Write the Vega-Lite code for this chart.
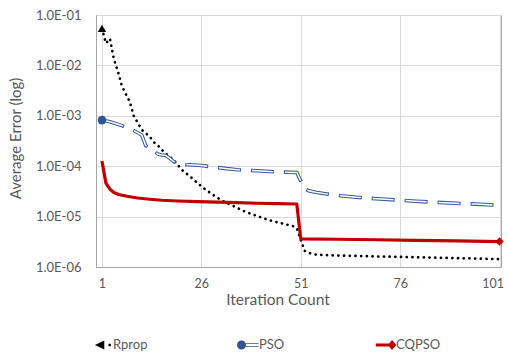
{
  "$schema": "https://vega.github.io/schema/vega-lite/v6.json",
  "width": 405,
  "height": 252,
  "autosize": {"type": "none"},
  "padding": {"left": 96, "top": 15, "right": 7, "bottom": 89},
  "config": {
    "font": "Lato",
    "view": {"stroke": "#a6a6a6"},
    "axis": {"labelColor": "#595959", "titleColor": "#595959", "labelFont": "Lato", "titleFont": "Lato", "titleFontWeight": "normal", "gridColor": "#d9d9d9", "domainColor": "#a6a6a6", "ticks": false, "tickSize": 0}
  },
  "data": {
    "values": [
      {"series": "Rprop", "x": 1, "y": 0.054},
      {"series": "Rprop", "x": 2, "y": 0.0275},
      {"series": "Rprop", "x": 3, "y": 0.034},
      {"series": "Rprop", "x": 4, "y": 0.0133},
      {"series": "Rprop", "x": 5, "y": 0.0077},
      {"series": "Rprop", "x": 6, "y": 0.0039},
      {"series": "Rprop", "x": 7, "y": 0.0027},
      {"series": "Rprop", "x": 8, "y": 0.0019},
      {"series": "Rprop", "x": 9, "y": 0.00099},
      {"series": "Rprop", "x": 10, "y": 0.00073},
      {"series": "Rprop", "x": 11, "y": 0.00053},
      {"series": "Rprop", "x": 12, "y": 0.00045},
      {"series": "Rprop", "x": 13, "y": 0.00039},
      {"series": "Rprop", "x": 14, "y": 0.0003},
      {"series": "Rprop", "x": 15, "y": 0.000263},
      {"series": "Rprop", "x": 16, "y": 0.000214},
      {"series": "Rprop", "x": 17, "y": 0.000178},
      {"series": "Rprop", "x": 18, "y": 0.000156},
      {"series": "Rprop", "x": 19, "y": 0.000133},
      {"series": "Rprop", "x": 20, "y": 0.000108},
      {"series": "Rprop", "x": 21, "y": 0.000086},
      {"series": "Rprop", "x": 22, "y": 0.000074},
      {"series": "Rprop", "x": 23, "y": 0.000064},
      {"series": "Rprop", "x": 24, "y": 0.000055},
      {"series": "Rprop", "x": 25, "y": 0.0000465},
      {"series": "Rprop", "x": 27, "y": 0.0000346},
      {"series": "Rprop", "x": 29, "y": 0.0000269},
      {"series": "Rprop", "x": 31, "y": 0.0000211},
      {"series": "Rprop", "x": 34, "y": 0.0000163},
      {"series": "Rprop", "x": 37, "y": 0.0000125},
      {"series": "Rprop", "x": 40, "y": 0.0000103},
      {"series": "Rprop", "x": 43, "y": 0.0000085},
      {"series": "Rprop", "x": 46, "y": 0.0000074},
      {"series": "Rprop", "x": 49, "y": 0.0000065},
      {"series": "Rprop", "x": 50, "y": 0.0000059},
      {"series": "Rprop", "x": 51, "y": 0.00000347},
      {"series": "Rprop", "x": 52, "y": 0.00000209},
      {"series": "Rprop", "x": 53, "y": 0.0000019},
      {"series": "Rprop", "x": 55, "y": 0.00000175},
      {"series": "Rprop", "x": 60, "y": 0.00000169},
      {"series": "Rprop", "x": 70, "y": 0.00000162},
      {"series": "Rprop", "x": 80, "y": 0.00000156},
      {"series": "Rprop", "x": 90, "y": 0.0000015},
      {"series": "Rprop", "x": 101, "y": 0.00000143},
      {"series": "PSO", "x": 1, "y": 0.000822},
      {"series": "PSO", "x": 3, "y": 0.00076},
      {"series": "PSO", "x": 6, "y": 0.00064},
      {"series": "PSO", "x": 9, "y": 0.00051},
      {"series": "PSO", "x": 11, "y": 0.000415},
      {"series": "PSO", "x": 12, "y": 0.000257},
      {"series": "PSO", "x": 13, "y": 0.000229},
      {"series": "PSO", "x": 14, "y": 0.000205},
      {"series": "PSO", "x": 15, "y": 0.000175},
      {"series": "PSO", "x": 16, "y": 0.000167},
      {"series": "PSO", "x": 17, "y": 0.000164},
      {"series": "PSO", "x": 18, "y": 0.000145},
      {"series": "PSO", "x": 19, "y": 0.000124},
      {"series": "PSO", "x": 20, "y": 0.000113},
      {"series": "PSO", "x": 22, "y": 0.000108},
      {"series": "PSO", "x": 26, "y": 0.000103},
      {"series": "PSO", "x": 30, "y": 0.000094},
      {"series": "PSO", "x": 35, "y": 0.000085},
      {"series": "PSO", "x": 40, "y": 0.000081},
      {"series": "PSO", "x": 45, "y": 0.000077},
      {"series": "PSO", "x": 50, "y": 0.000075},
      {"series": "PSO", "x": 51, "y": 0.000051},
      {"series": "PSO", "x": 52, "y": 0.0000354},
      {"series": "PSO", "x": 53, "y": 0.0000326},
      {"series": "PSO", "x": 55, "y": 0.00003},
      {"series": "PSO", "x": 58, "y": 0.0000278},
      {"series": "PSO", "x": 61, "y": 0.000026},
      {"series": "PSO", "x": 65, "y": 0.0000242},
      {"series": "PSO", "x": 70, "y": 0.0000226},
      {"series": "PSO", "x": 75, "y": 0.0000214},
      {"series": "PSO", "x": 80, "y": 0.0000202},
      {"series": "PSO", "x": 85, "y": 0.0000192},
      {"series": "PSO", "x": 90, "y": 0.0000184},
      {"series": "PSO", "x": 95, "y": 0.0000177},
      {"series": "PSO", "x": 101, "y": 0.0000167},
      {"series": "CQPSO", "x": 1, "y": 0.000127},
      {"series": "CQPSO", "x": 2, "y": 0.000046},
      {"series": "CQPSO", "x": 3, "y": 0.000035},
      {"series": "CQPSO", "x": 4, "y": 0.00003},
      {"series": "CQPSO", "x": 5, "y": 0.0000279},
      {"series": "CQPSO", "x": 6, "y": 0.0000265},
      {"series": "CQPSO", "x": 8, "y": 0.0000248},
      {"series": "CQPSO", "x": 10, "y": 0.0000234},
      {"series": "CQPSO", "x": 13, "y": 0.0000221},
      {"series": "CQPSO", "x": 16, "y": 0.0000211},
      {"series": "CQPSO", "x": 20, "y": 0.0000204},
      {"series": "CQPSO", "x": 25, "y": 0.0000198},
      {"series": "CQPSO", "x": 30, "y": 0.0000194},
      {"series": "CQPSO", "x": 35, "y": 0.0000189},
      {"series": "CQPSO", "x": 40, "y": 0.0000184},
      {"series": "CQPSO", "x": 45, "y": 0.0000181},
      {"series": "CQPSO", "x": 50, "y": 0.0000178},
      {"series": "CQPSO", "x": 51, "y": 0.00000362},
      {"series": "CQPSO", "x": 60, "y": 0.00000355},
      {"series": "CQPSO", "x": 70, "y": 0.00000347},
      {"series": "CQPSO", "x": 80, "y": 0.00000338},
      {"series": "CQPSO", "x": 90, "y": 0.0000033},
      {"series": "CQPSO", "x": 101, "y": 0.0000032}
    ]
  },
  "encoding": {
    "x": {
      "field": "x", "type": "quantitative",
      "scale": {"domain": [-0.5, 101.36], "nice": false, "zero": false},
      "axis": {"values": [1, 26, 51, 76, 101], "title": "Iteration Count", "grid": true, "labelFontSize": 12.5, "labelPadding": 10, "labelFlush": 3, "labelFlushOffset": 4, "titleFontSize": 15.5, "titleX": 181.5, "titleY": 37.5, "titleBaseline": "alphabetic"}
    },
    "y": {
      "field": "y", "type": "quantitative",
      "scale": {"type": "log", "domain": [0.000001, 0.1], "nice": false},
      "axis": {"values": [0.000001, 0.00001, 0.0001, 0.001, 0.01, 0.1], "labelExpr": "'1.0E-0' + format(-log(datum.value)/LN10, '.0f')", "title": "Average Error (log)", "grid": true, "labelFontSize": 13, "labelPadding": 15, "titleFontSize": 15, "titleX": -76, "titleY": 123, "titleBaseline": "alphabetic"}
    }
  },
  "layer": [
    {
      "transform": [{"filter": "datum.series == 'Rprop'"}],
      "mark": {"type": "line", "color": "#000000", "strokeWidth": 2.7, "strokeDash": [0.1, 5.6], "strokeCap": "round"}
    },
    {
      "transform": [{"filter": "datum.series == 'PSO'"}],
      "mark": {"type": "line", "color": "#3559a3", "strokeWidth": 3.6, "strokeDash": [23, 10], "strokeCap": "butt"}
    },
    {
      "transform": [{"filter": "datum.series == 'PSO'"}],
      "mark": {"type": "line", "color": "#ffffff", "strokeWidth": 1.5, "strokeDash": [21, 12], "strokeDashOffset": -1, "strokeCap": "butt"}
    },
    {
      "transform": [{"filter": "datum.series == 'CQPSO'"}],
      "mark": {"type": "line", "color": "#c00000", "strokeWidth": 3.2, "strokeJoin": "round"}
    },
    {
      "transform": [{"filter": "datum.series == 'Rprop' && datum.x == 1"}],
      "mark": {"type": "point", "filled": true, "size": 70, "opacity": 1, "shape": "triangle-up", "color": "#000000"}
    },
    {
      "transform": [{"filter": "datum.series == 'PSO' && datum.x == 1"}],
      "mark": {"type": "point", "filled": true, "size": 75, "opacity": 1, "shape": "circle", "color": "#2f5597"}
    },
    {
      "transform": [{"filter": "datum.series == 'CQPSO' && datum.x == 101"}],
      "mark": {"type": "point", "filled": true, "size": 70, "opacity": 1, "shape": "diamond", "color": "#c00000"}
    },
    {
      "transform": [{"filter": "datum.x == 1"}],
      "mark": {"type": "point", "filled": true, "opacity": 0},
      "encoding": {
        "fill": {"field": "series", "type": "nominal", "scale": {"domain": ["Rprop", "PSO", "CQPSO"], "range": ["#000000", "#2f5597", "#c00000"]},
          "legend": {"title": null, "orient": "none", "direction": "horizontal", "legendX": -6, "legendY": 319, "columnPadding": 88, "padding": 0, "symbolSize": 484, "symbolOpacity": 1, "symbolStrokeWidth": 0, "labelFontSize": 13, "labelColor": "#595959", "labelOffset": 1}},
        "shape": {"field": "series", "type": "nominal", "scale": {"domain": ["Rprop", "PSO", "CQPSO"], "range": ["M-0.55,0L0.3,-0.4L0.3,0.4ZM0.68,-0.11H0.9V0.11H0.68Z", "M-0.91,0A0.41,0.41 0 1,0 -0.09,0A0.41,0.41 0 1,0 -0.91,0ZM-0.1,-0.16H1.05V-0.08H-0.1ZM-0.1,0.08H1.05V0.16H-0.1Z", "M-0.75,-0.14H0.5V0.14H-0.75ZM0.73,-0.45L1.12,0L0.73,0.45L0.34,0Z"]},
          "legend": {"title": null, "orient": "none", "direction": "horizontal", "legendX": -6, "legendY": 319, "columnPadding": 88, "padding": 0, "symbolSize": 484, "symbolOpacity": 1, "symbolStrokeWidth": 0, "labelFontSize": 13, "labelColor": "#595959", "labelOffset": 1}}
      }
    }
  ]
}
